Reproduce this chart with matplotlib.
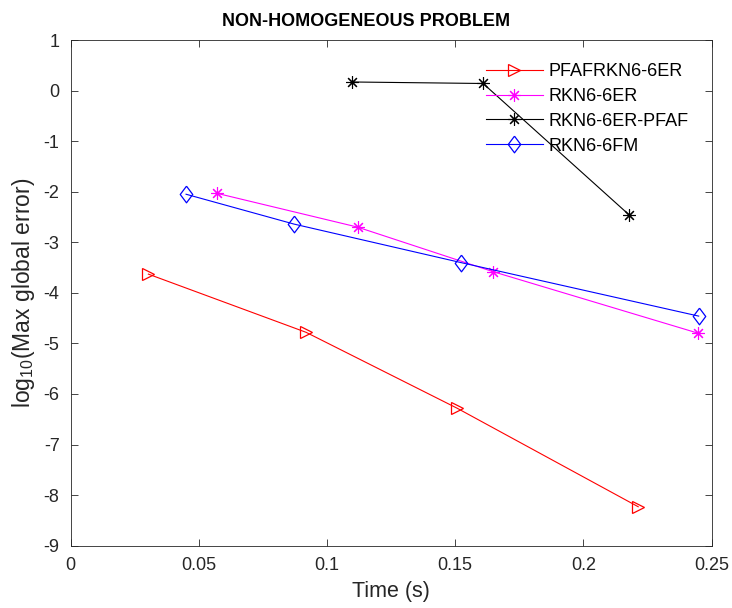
import matplotlib
matplotlib.use('Agg')
import matplotlib.pyplot as plt
import numpy as np

plt.rcParams['font.family'] = ['Liberation Sans', 'DejaVu Sans']
plt.rcParams['mathtext.default'] = 'regular'

# Werte
t_pfafrkn = [0.0303, 0.0918, 0.1507, 0.2214]
err_pfafrkn = [-3.63, -4.78, -6.28, -8.23]

t_rkn_er = [0.0569, 0.1119, 0.1647, 0.2449]
err_rkn_er = [-2.03, -2.70, -3.58, -4.80]

t_rkn_er_pfaf = [0.1097, 0.1609, 0.2179]
err_rkn_er_pfaf = [0.17, 0.14, -2.46]

t_rkn_fm = [0.0450, 0.0871, 0.1521, 0.2450]
err_rkn_fm = [-2.05, -2.64, -3.40, -4.46]

labels = ['PFAFRKN6-6ER', 'RKN6-6ER', 'RKN6-6ER-PFAF', 'RKN6-6FM']
xtick_vals = [0, 0.05, 0.1, 0.15, 0.2, 0.25]
xtick_labels = ['0', '0.05', '0.1', '0.15', '0.2', '0.25']
ytick_vals = np.arange(-9, 2, 1)

asterisk = (8, 2, 0)  # MATLAB-artiges '*'
diamond = [(0, 1), (0.75, 0), (0, -1), (-0.75, 0), (0, 1)]

fig = plt.figure(figsize=(7.32, 6.08), dpi=100)
ax = fig.add_axes([0.0966, 0.1025, 0.8754, 0.8317])

ax.plot(t_pfafrkn, err_pfafrkn, color='#ff0000', marker='>', markersize=9,
        markerfacecolor='none', markeredgewidth=0.9, linewidth=0.8, label=labels[0])
ax.plot(t_rkn_er, err_rkn_er, color='#ff00ff', marker=asterisk, markersize=9,
        markeredgewidth=0.8, linewidth=0.8, label=labels[1])
ax.plot(t_rkn_er_pfaf, err_rkn_er_pfaf, color='k', marker=asterisk, markersize=9,
        markeredgewidth=0.8, linewidth=0.8, label=labels[2])
ax.plot(t_rkn_fm, err_rkn_fm, color='#0000ff', marker=diamond, markersize=12,
        markerfacecolor='none', markeredgewidth=0.9, linewidth=0.8, label=labels[3])

ax.set_xlim(0, 0.25)
ax.set_ylim(-9, 1)
ax.set_xticks(xtick_vals)
ax.set_xticklabels(xtick_labels)
ax.set_yticks(ytick_vals)
ax.set_yticklabels([str(v) for v in ytick_vals])

# Ticks innen und auf allen Seiten wie in MATLAB
ax.tick_params(direction='in', top=True, right=True, length=5, width=0.6,
               labelsize=13, colors='#262626', pad=8)
for s in ax.spines.values():
    s.set_color('#262626')
    s.set_linewidth(0.6)

ax.set_title('NON-HOMOGENEOUS PROBLEM', fontsize=13, fontweight='bold',
             x=0.461, pad=10)
ax.set_xlabel('Time (s)', fontsize=15.5, color='#262626', labelpad=5)
ax.set_ylabel('log$_{10}$(Max global error)', fontsize=16.5, color='#262626',
              labelpad=5)

ax.legend(loc='upper left', bbox_to_anchor=(0.648, 0.954), frameon=False,
          fontsize=13, handlelength=3.15, handletextpad=0.33, labelspacing=0.43,
          borderaxespad=0, borderpad=0)

fig.savefig('out.png', dpi=100)
